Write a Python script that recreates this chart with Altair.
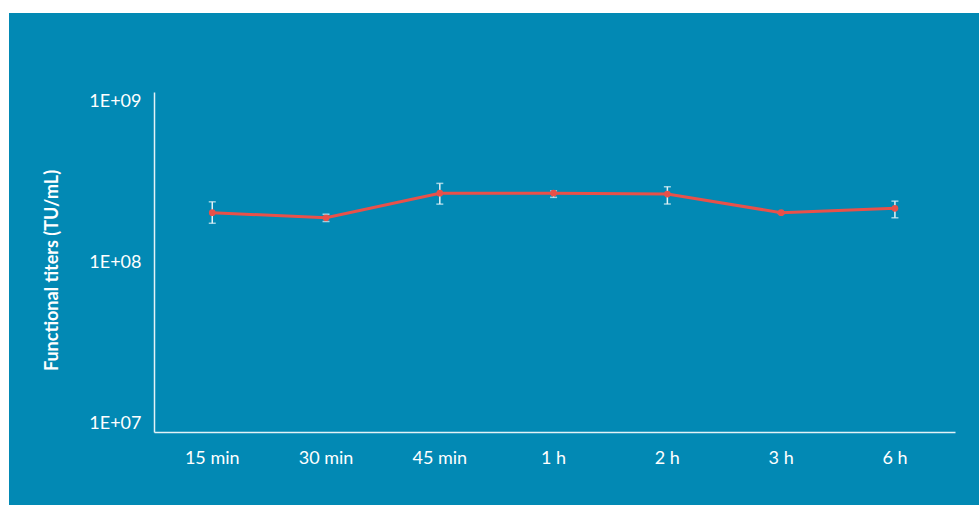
import altair as alt
import pandas as pd

times = ["15 min", "30 min", "45 min", "1 h", "2 h", "3 h", "6 h"]
titer = [1.95e8, 1.82e8, 2.54e8, 2.54e8, 2.51e8, 1.95e8, 2.07e8]
err_low = [1.69e8, 1.73e8, 2.19e8, 2.40e8, 2.19e8, 1.93e8, 1.82e8]
err_high = [2.26e8, 1.91e8, 2.90e8, 2.62e8, 2.77e8, 1.97e8, 2.28e8]
y_ticks = [1e7, 1e8, 1e9]

df = pd.DataFrame({"time": times, "titer": titer, "lo": err_low, "hi": err_high})

BLUE = "#0289b4"
RED = "#e8514a"
LIGHT = "#e3f2f7"
FONT = "Lato"

x_enc = alt.X("time:N", sort=times, title=None,
              scale=alt.Scale(paddingInner=0, paddingOuter=0.02, align=0.3),
              axis=alt.Axis(labelAngle=0, ticks=False, domain=True, domainColor=LIGHT,
                            domainWidth=1.5, labelColor="white", labelFont=FONT,
                            labelFontSize=18, labelFontWeight="normal", labelPadding=17,
                            grid=False, zindex=1))

y_scale = alt.Scale(type="log", domain=[1e7, 1e9])
y_axis = alt.Axis(values=y_ticks, ticks=False, grid=False, domainColor=LIGHT, domainWidth=1.5,
                  labelColor="white", labelFont=FONT, labelFontSize=18, labelFontWeight="normal",
                  labelPadding=13, labelFlush=True, zindex=1,
                  labelExpr="datum.value >= 1e9 ? '1E+09' : (datum.value >= 1e8 ? '1E+08' : '1E+07')",
                  title="Functional titers (TU/mL)", titleColor="white", titleFont=FONT,
                  titleFontSize=18, titleFontWeight="bold", titleAngle=-90,
                  titleAlign="center", titleBaseline="middle", titleX=-102, titleY=178)

base = alt.Chart(df)

bg = base.mark_rect(color=BLUE).encode(
    x=alt.value(-145), x2=alt.value(825), y=alt.value(-79), y2=alt.value(413)
).transform_filter("datum.time == '15 min'")

rule = base.mark_rule(color=LIGHT, strokeWidth=1.5).encode(
    x=x_enc, y=alt.Y("lo:Q", scale=y_scale, axis=y_axis), y2="hi:Q")
cap_lo = base.mark_tick(color=LIGHT, size=7, thickness=1.5, orient="horizontal").encode(
    x=alt.X("time:N", sort=times), y=alt.Y("lo:Q", scale=y_scale))
cap_hi = base.mark_tick(color=LIGHT, size=7, thickness=1.5, orient="horizontal").encode(
    x=alt.X("time:N", sort=times), y=alt.Y("hi:Q", scale=y_scale))
line = base.mark_line(color=RED, strokeWidth=3).encode(
    x=alt.X("time:N", sort=times), y=alt.Y("titer:Q", scale=y_scale))
pts = base.mark_circle(color=RED, size=45, opacity=1).encode(
    x=alt.X("time:N", sort=times), y=alt.Y("titer:Q", scale=y_scale))

chart = alt.layer(bg, rule, cap_lo, cap_hi, line, pts).properties(
    width=801, height=340,
    autosize=alt.AutoSizeParams(type="none"),
    padding={"left": 154, "top": 92, "right": 24, "bottom": 73},
    background="white",
).configure_view(stroke=None)

chart.save("out.html", embed_options={"renderer": "svg", "actions": False})
